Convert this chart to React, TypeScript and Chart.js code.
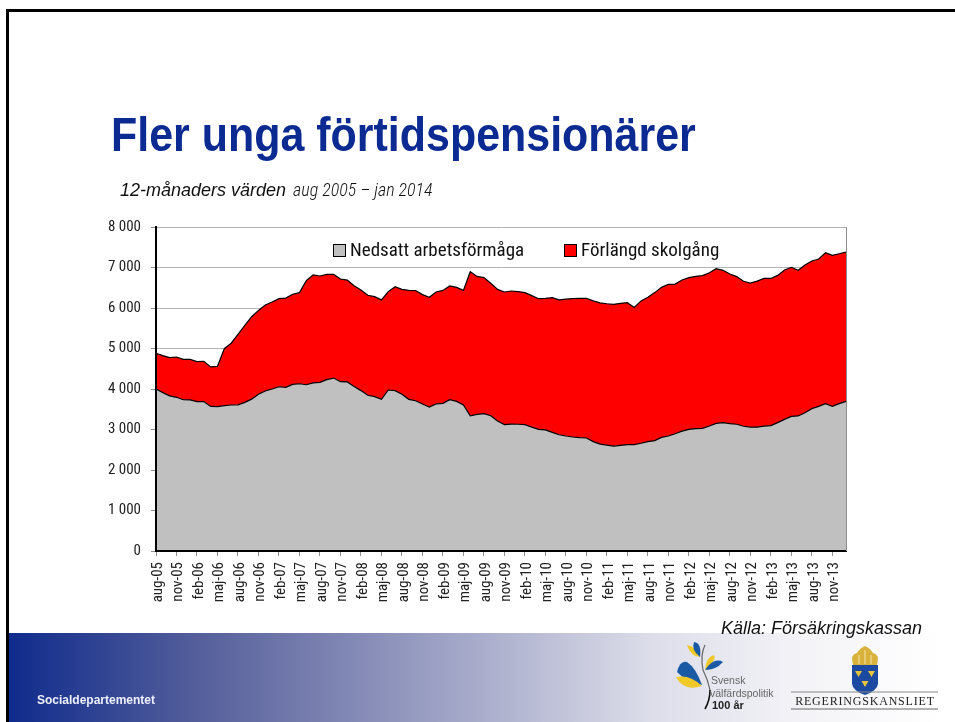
import React, { useEffect, useRef } from "react";
import { Chart, registerables } from "chart.js";

Chart.register(...registerables);

const categories = [
  "aug-05", "sep-05", "okt-05", "nov-05", "dec-05",
  "jan-06", "feb-06", "mar-06", "apr-06", "maj-06", "jun-06", "jul-06", "aug-06", "sep-06", "okt-06", "nov-06", "dec-06",
  "jan-07", "feb-07", "mar-07", "apr-07", "maj-07", "jun-07", "jul-07", "aug-07", "sep-07", "okt-07", "nov-07", "dec-07",
  "jan-08", "feb-08", "mar-08", "apr-08", "maj-08", "jun-08", "jul-08", "aug-08", "sep-08", "okt-08", "nov-08", "dec-08",
  "jan-09", "feb-09", "mar-09", "apr-09", "maj-09", "jun-09", "jul-09", "aug-09", "sep-09", "okt-09", "nov-09", "dec-09",
  "jan-10", "feb-10", "mar-10", "apr-10", "maj-10", "jun-10", "jul-10", "aug-10", "sep-10", "okt-10", "nov-10", "dec-10",
  "jan-11", "feb-11", "mar-11", "apr-11", "maj-11", "jun-11", "jul-11", "aug-11", "sep-11", "okt-11", "nov-11", "dec-11",
  "jan-12", "feb-12", "mar-12", "apr-12", "maj-12", "jun-12", "jul-12", "aug-12", "sep-12", "okt-12", "nov-12", "dec-12",
  "jan-13", "feb-13", "mar-13", "apr-13", "maj-13", "jun-13", "jul-13", "aug-13", "sep-13", "okt-13", "nov-13", "dec-13",
  "jan-14",
];

const nedsatt = [
  4000, 3910, 3830, 3795, 3735, 3730, 3690, 3690, 3570, 3565,
  3590, 3605, 3610, 3670, 3750, 3870, 3950, 4000, 4055, 4040,
  4115, 4130, 4105, 4150, 4165, 4230, 4270, 4180, 4175, 4060,
  3960, 3845, 3810, 3745, 3975, 3960, 3870, 3745, 3710, 3630,
  3555, 3630, 3645, 3735, 3695, 3605, 3340, 3375, 3390, 3340,
  3210, 3120, 3135, 3130, 3120, 3060, 3005, 2990, 2930, 2870,
  2840, 2815, 2800, 2790, 2700, 2640, 2615, 2590, 2610, 2625,
  2625, 2660, 2700, 2725, 2805, 2840, 2895, 2960, 3005, 3020,
  3030, 3085, 3150, 3170, 3145, 3130, 3080, 3060, 3060, 3085,
  3095, 3170, 3250, 3325, 3335, 3415, 3515, 3570, 3640, 3570,
  3640, 3695,
];

const forlangd = [
  880, 915, 945, 995, 995, 1000, 985, 995, 975, 995,
  1405, 1525, 1740, 1900, 2035, 2070, 2125, 2150, 2175, 2205,
  2225, 2250, 2570, 2665, 2625, 2600, 2560, 2535, 2515, 2490,
  2485, 2470, 2470, 2455, 2430, 2565, 2590, 2690, 2720, 2700,
  2710, 2765, 2790, 2810, 2815, 2830, 3555, 3405, 3360, 3270,
  3250, 3275, 3285, 3275, 3260, 3245, 3225, 3250, 3325, 3330,
  3380, 3415, 3440, 3450, 3475, 3485, 3490, 3500, 3505, 3505,
  3390, 3515, 3565, 3655, 3705, 3745, 3695, 3730, 3745, 3760,
  3770, 3785, 3820, 3760, 3695, 3645, 3580, 3555, 3605, 3645,
  3635, 3635, 3690, 3680, 3595, 3645, 3645, 3640, 3725, 3730,
  3700, 3685,
];

const NARROW = '"Roboto Condensed", "Liberation Sans", sans-serif';
const SANS = '"Liberation Sans", sans-serif';

const frameEdges = {
  id: "frameEdges",
  afterDraw(chart: any) {
    const { ctx, chartArea: a } = chart;
    ctx.save();
    ctx.strokeStyle = "#8c8c8c";
    ctx.lineWidth = 1;
    ctx.beginPath();
    ctx.moveTo(a.right + 0.5, a.top);
    ctx.lineTo(a.right + 0.5, a.bottom);
    ctx.stroke();
    // Legend inside the plot, built from the dataset labels and colours
    const starts = [333, 564];
    ctx.font = `19px ${NARROW}`;
    ctx.textBaseline = "middle";
    ctx.textAlign = "left";
    chart.data.datasets.forEach((d: any, i: number) => {
      ctx.fillStyle = d.backgroundColor;
      ctx.strokeStyle = "#000";
      ctx.lineWidth = 1;
      ctx.fillRect(starts[i] + 0.5, 244.5, 12, 12);
      ctx.strokeRect(starts[i] + 0.5, 244.5, 12, 12);
      ctx.fillStyle = "#111";
      ctx.fillText(d.label, starts[i] + 17, 251);
    });
    ctx.restore();
  },
};

const abs = (o: React.CSSProperties): React.CSSProperties => ({ position: "absolute", whiteSpace: "nowrap", margin: 0, ...o });

export default function App() {
  const ref = useRef<HTMLCanvasElement>(null);
  useEffect(() => {
    document.body.style.margin = "0";
    const chart = new Chart(ref.current!, {
      type: "line",
      data: {
        labels: categories,
        datasets: [
          { label: "Nedsatt arbetsförmåga", data: nedsatt, backgroundColor: "#c0c0c0", borderColor: "#000", borderWidth: 1.2, fill: "origin", pointRadius: 0, tension: 0 },
          { label: "Förlängd skolgång", data: forlangd, backgroundColor: "#ff0000", borderColor: "#000", borderWidth: 1.2, fill: "-1", pointRadius: 0, tension: 0 },
        ],
      },
      plugins: [frameEdges],
      options: {
        animation: false,
        responsive: false,
        layout: { padding: { left: 100, top: 227, right: 109, bottom: 100 } },
        plugins: {
          title: { display: false },
          tooltip: { enabled: false },
          legend: { display: false },
        },
        scales: {
          x: {
            stacked: true,
            offset: false,
            afterBuildTicks: (s: any) => { s.ticks = s.ticks.filter((t: any) => t.value % 3 === 0); },
            afterFit: (s: any) => { s.height = 71; },
            grid: { drawOnChartArea: false, color: "#8c8c8c", tickLength: 5, tickColor: "#8c8c8c" },
            border: { color: "#000", width: 2, z: 1 },
            ticks: { autoSkip: false, minRotation: 90, maxRotation: 90, color: "#222", padding: 6, labelOffset: 2, font: { family: NARROW, size: 15 } },
          },
          y: {
            stacked: true,
            min: 0,
            max: 8000,
            afterFit: (s: any) => { s.width = 56; },
            grid: { color: "#b4b4b4", lineWidth: 1, tickLength: 5, tickColor: "#8c8c8c" },
            border: { color: "#000", width: 2, z: 1 },
            ticks: {
              stepSize: 1000,
              color: "#222",
              padding: 10,
              font: { family: NARROW, size: 15 },
              callback: (v: any) => String(v).replace(/\B(?=(\d{3})+$)/g, " "),
            },
          },
        },
      },
    } as any);
    return () => chart.destroy();
  }, []);

  return (
    <div style={{ position: "relative", width: 955, height: 722, overflow: "hidden", background: "#fff" }}>
      <div style={{ position: "absolute", left: 9, top: 633, width: 946, height: 89, background: "linear-gradient(90deg,#0f2b8c 0px,#555f9b 191px,#a0a4c6 441px,#dcdde9 641px,#f3f3f7 791px,#ffffff 930px)" }} />
      <div style={{ position: "absolute", left: 6, top: 9, width: 949, height: 713, borderLeft: "3px solid #000", borderTop: "3px solid #000", boxSizing: "border-box" }} />
      <canvas ref={ref} width={955} height={722} style={{ position: "absolute", left: 0, top: 0, display: "block" }} />
      <h1 style={abs({ left: 111, top: 107, color: "#0b2a92", font: `bold 48px ${SANS}`, transform: "scaleX(0.895)", transformOrigin: "left top" })}>Fler unga förtidspensionärer</h1>
      <div style={abs({ left: 120, top: 179, color: "#111", font: `italic 18px ${SANS}` })}>
        12-månaders värden <span style={{ font: `italic 18px ${NARROW}`, fontWeight: 300, marginLeft: 2 }}>aug 2005 –  jan 2014</span>
      </div>
      <div style={abs({ left: 721, top: 618, color: "#111", font: `italic 18px ${SANS}` })}>Källa: Försäkringskassan</div>
      <div style={abs({ left: 37, top: 693, color: "#eef0f8", font: `bold 12px ${SANS}` })}>Socialdepartementet</div>
      <svg width={955} height={722} style={{ position: "absolute", left: 0, top: 0, pointerEvents: "none" }}>
        <path d="M705 645 Q700 655 703 670 Q708 680 710 690" stroke="#666" strokeWidth="1.2" fill="none" />
        <path d="M710 690 Q710 700 705 709" stroke="#111" strokeWidth="1.6" fill="none" />
        <path d="M687 645 Q696 646 700 657 Q691 657 687 645 Z" fill="#f0c929" />
        <path d="M694 642 Q702 643 700 657 Q691 650 694 642 Z" fill="#1a5aa5" />
        <path d="M705 670 Q706 657 714 655 Q717 660 705 670 Z" fill="#f0c929" />
        <path d="M705 670 Q714 657 723 662 Q716 670 705 670 Z" fill="#1a5aa5" />
        <path d="M702 685 Q684 680 677 672 Q680 660 687 662 Q696 668 702 685 Z" fill="#1a5aa5" />
        <path d="M702 686 Q684 692 676 677 Q690 674 702 686 Z" fill="#f0c929" />
        <text x="711" y="684" fontFamily="Liberation Sans" fontSize="10.5" fill="#666">Svensk</text>
        <text x="710" y="697" fontFamily="Liberation Sans" fontSize="10.5" fill="#666">välfärdspolitik</text>
        <text x="712" y="709" fontFamily="Liberation Sans" fontSize="11" fontWeight="bold" fill="#222">100 år</text>
        <path d="M852 665 H878 V684 Q877 691 865 695 Q853 691 852 684 Z" fill="#1c4aa0" />
        <path d="M853 665 Q850 654 857 653 Q860 648 865 646 Q870 648 873 653 Q880 654 877 665 Z" fill="#d8b23a" />
        <path d="M859 664 V655 M865 664 V650 M871 664 V655" stroke="#f3e6b0" strokeWidth="1" fill="none" />
        <path d="M855 671 h7 l-3.5 6 Z M868 671 h7 l-3.5 6 Z M861.500 681 h7 l-3.5 6 Z" fill="#e6c53c" />
        <line x1="791" y1="692" x2="938" y2="692" stroke="#888" />
        <line x1="791" y1="709" x2="938" y2="709" stroke="#666" />
        <text x="865" y="705" textAnchor="middle" fontFamily="Liberation Serif" fontSize="12" letterSpacing="0.8" fill="#222">REGERINGSKANSLIET</text>
      </svg>
    </div>
  );
}
